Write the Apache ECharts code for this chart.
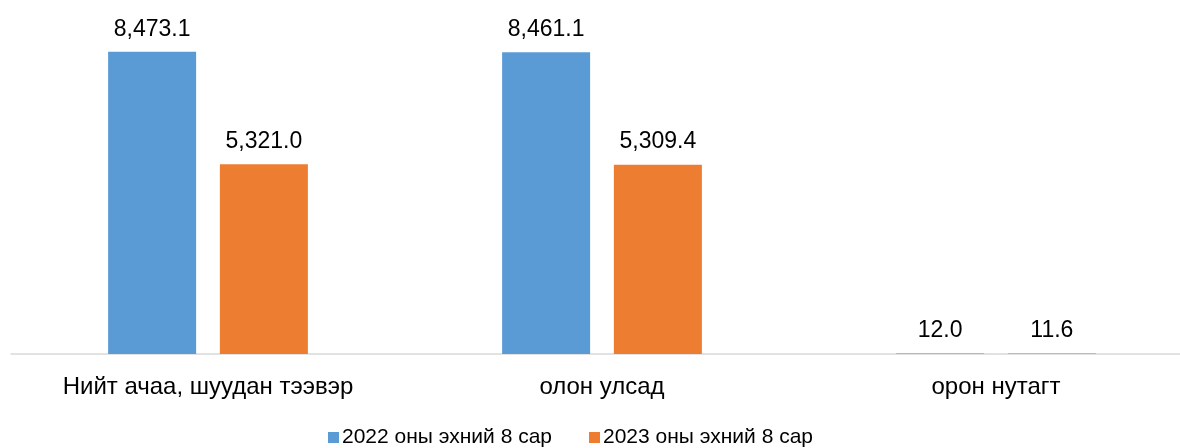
<!DOCTYPE html>
<html><head><meta charset="utf-8">
<script src="https://cdn.jsdelivr.net/npm/echarts@6/dist/echarts.min.js"></script>
<style>html,body{margin:0;padding:0;background:#fff}#c{width:1180px;height:448px}</style>
</head><body><div id="c"></div>
<script>
var categories = ['Нийт ачаа, шуудан тээвэр', 'олон улсад', 'орон нутагт'];
var seriesNames = ['2022 оны эхний 8 сар', '2023 оны эхний 8 сар'];
var values2022 = [8473.1, 8461.1, 12.0];
var values2023 = [5321.0, 5309.4, 11.6];

var font = '"Liberation Sans", Arial, sans-serif';
var chart = echarts.init(document.getElementById('c'));
var lbl = {
  show: true, position: 'top', distance: 11, color: '#000', fontSize: 23, fontFamily: font,
  formatter: function (p) { return p.value.toLocaleString('en-US', {minimumFractionDigits: 1, maximumFractionDigits: 1}); }
};
chart.setOption({
  animation: false,
  textStyle: {fontFamily: font},
  grid: {left: 11, right: -13, top: 33, bottom: 94, containLabel: false, outerBoundsMode: 'none'},
  legend: {
    data: seriesNames, bottom: -5, left: 323, itemWidth: 11, itemHeight: 11, itemGap: 37,
    icon: 'rect', textStyle: {fontSize: 21, color: '#000', fontFamily: font, padding: [0, 0, 0, -2]}
  },
  xAxis: {
    type: 'category', data: categories,
    axisLine: {lineStyle: {color: '#d9d9d9', width: 1.5}},
    axisTick: {show: false},
    axisLabel: {fontSize: 24, color: '#000', margin: 21, fontFamily: font}
  },
  yAxis: {type: 'value', min: 0, max: 9000, show: false, splitLine: {show: false}},
  series: [
    {name: seriesNames[0], type: 'bar', data: values2022, barWidth: 88, barGap: '27%', itemStyle: {color: '#5B9BD5'}, label: lbl},
    {name: seriesNames[1], type: 'bar', data: values2023, barWidth: 88, barGap: '27%', itemStyle: {color: '#ED7D31'}, label: lbl}
  ]
});
</script></body></html>
